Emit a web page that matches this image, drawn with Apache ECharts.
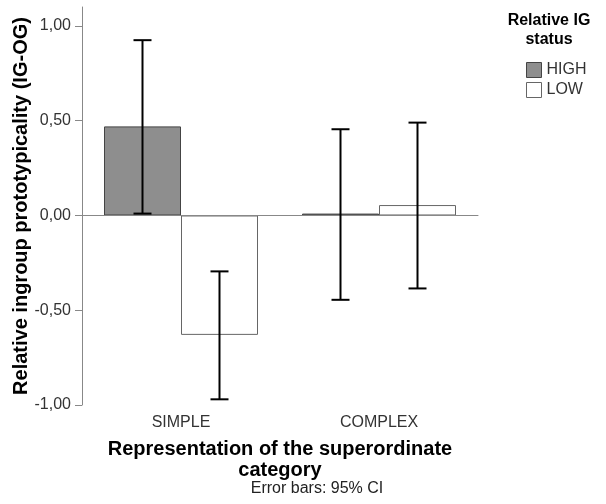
<!DOCTYPE html>
<html>
<head>
<meta charset="utf-8">
<script src="https://cdn.jsdelivr.net/npm/echarts@6/dist/echarts.min.js"></script>
<style>
  html, body { margin: 0; padding: 0; background: #fff; }
  #chart { width: 606px; height: 504px; }
</style>
</head>
<body>
<div id="chart"></div>
<script>
var categories = ['SIMPLE', 'COMPLEX'];
var groups = ['HIGH', 'LOW'];
var highMean = [0.47, 0.01];
var lowMean = [-0.63, 0.055];
var highCI = [[0.01, 0.925], [-0.445, 0.455]];
var lowCI = [[-0.97, -0.295], [-0.385, 0.49]];
var yTicks = [-1, -0.5, 0, 0.5, 1];

var font = '"Liberation Sans", Arial, sans-serif';
var barW = 77;

var fmt = function(v){
    return v.toFixed(2).replace('.', ',');
};

var errorSeries = function(name, ci, shift){
    return {
        name: name + ' CI',
        type: 'custom',
        silent: true,
        z: 10,
        data: ci.map(function(d, i){ return [i, d[0], d[1]]; }),
        renderItem: function(params, api){
            var lo = api.coord([api.value(0), api.value(1)]);
            var hi = api.coord([api.value(0), api.value(2)]);
            var x = lo[0] + shift;
            var cap = 9;
            var st = { stroke: '#000', lineWidth: 2 };
            return {
                type: 'group',
                children: [
                    { type: 'line', shape: { x1: x, y1: lo[1], x2: x, y2: hi[1] }, style: st },
                    { type: 'line', shape: { x1: x - cap, y1: lo[1], x2: x + cap, y2: lo[1] }, style: st },
                    { type: 'line', shape: { x1: x - cap, y1: hi[1], x2: x + cap, y2: hi[1] }, style: st }
                ]
            };
        }
    };
};

var myChart = echarts.init(document.getElementById('chart'));

var option = {
    backgroundColor: '#fff',
    animation: false,
    textStyle: { fontFamily: font },
    grid: { left: 82, right: 128, top: 7, bottom: 99, containLabel: false, outerBoundsMode: 'none' },
    legend: {
        orient: 'vertical',
        left: 521,
        top: 57,
        itemWidth: 15,
        itemHeight: 15,
        itemGap: 4,
        icon: 'rect',
        data: groups,
        itemStyle: { borderWidth: 1 },
        textStyle: { fontFamily: font, fontSize: 16, color: '#333' }
    },
    xAxis: {
        type: 'category',
        data: categories,
        boundaryGap: true,
        axisLine: { lineStyle: { color: '#888', width: 1 } },
        axisTick: { alignWithLabel: true, length: 7, lineStyle: { color: '#888' } },
        axisLabel: { fontFamily: font, fontSize: 16, color: '#333', margin: 10 },
        name: 'Representation of the superordinate\ncategory',
        nameLocation: 'middle',
        nameGap: 34,
        nameMoveOverlap: false,
        nameTextStyle: { fontFamily: font, fontSize: 20, fontWeight: 'bold', color: '#000', lineHeight: 21 }
    },
    yAxis: {
        type: 'value',
        min: -1,
        max: 1.1,
        axisLine: { show: true, lineStyle: { color: '#888', width: 1 } },
        axisTick: { show: true, length: 7, customValues: yTicks, lineStyle: { color: '#888' } },
        axisLabel: {
            customValues: yTicks,
            fontFamily: font, fontSize: 16, color: '#333', margin: 11,
            formatter: function(v){ return fmt(v); }
        },
        splitLine: { show: false },
        name: 'Relative ingroup prototypicality (IG-OG)',
        nameLocation: 'middle',
        nameGap: 51,
        nameMoveOverlap: false,
        nameTextStyle: { fontFamily: font, fontSize: 20, fontWeight: 'bold', color: '#000' }
    },
    graphic: [
        {
            type: 'text',
            position: [549, 11],
            style: {
                text: 'Relative IG\nstatus',
                fontFamily: font, fontSize: 16, fontWeight: 'bold', fill: '#000',
                textAlign: 'center', lineHeight: 19
            }
        },
        {
            type: 'text',
            position: [317, 489],
            style: {
                text: 'Error bars: 95% CI',
                fontFamily: font, fontSize: 16, fill: '#222',
                textAlign: 'center', textVerticalAlign: 'middle'
            }
        }
    ],
    series: [
        {
            name: 'HIGH',
            type: 'bar',
            barWidth: barW,
            barGap: '0%',
            data: highMean,
            itemStyle: { color: '#8e8e8e', borderColor: '#444', borderWidth: 1 },
            markLine: {
                silent: true,
                symbol: 'none',
                label: { show: false },
                lineStyle: { color: '#888', width: 1, type: 'solid' },
                data: [{ yAxis: 0 }]
            }
        },
        {
            name: 'LOW',
            type: 'bar',
            barWidth: barW,
            barGap: '0%',
            data: lowMean,
            itemStyle: { color: '#fff', borderColor: '#666', borderWidth: 1 }
        },
        errorSeries('HIGH', highCI, -barW / 2),
        errorSeries('LOW', lowCI, barW / 2)
    ]
};

myChart.setOption(option);
</script>
</body>
</html>
